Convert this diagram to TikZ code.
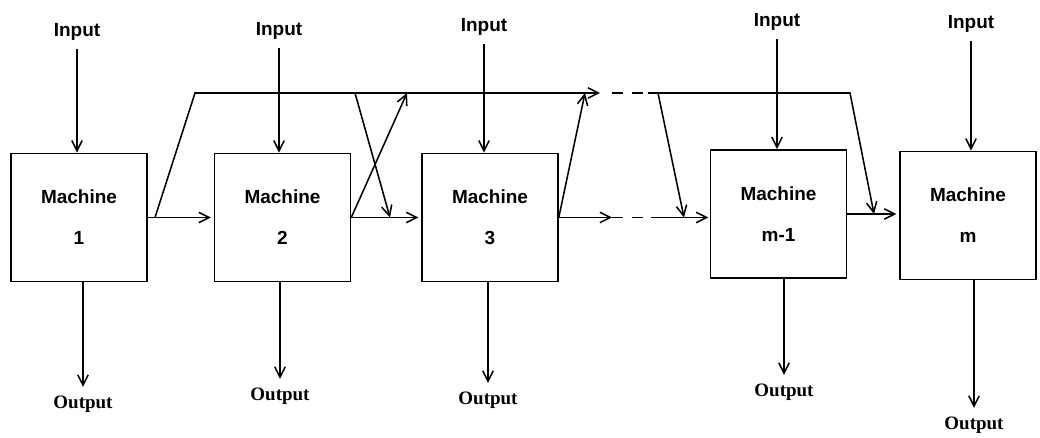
\documentclass[tikz,border=0pt]{standalone}
\usepackage{fontspec}
\setmainfont{Liberation Sans}
\newfontfamily\outfont{Liberation Serif}
\usetikzlibrary{arrows.meta}

\begin{document}
\begin{tikzpicture}[
  x=0.025cm, y=-0.025cm,
  font=\bfseries\fontsize{13.5}{16}\selectfont,
  every node/.style={align=center, inner sep=2pt},
  machine/.style={rectangle, draw=black, line width=1.1pt, minimum width=3.4cm, minimum height=3.2cm},
  io/.style     ={inner sep=6pt},
  arr/.style    ={-{Straight Barb[length=2.6mm, width=2.6mm]}, draw=black, line width=1.1pt},
  link/.style   ={draw=black, line width=1.1pt},
  gap/.style    ={draw=black, line width=1.1pt, dash pattern=on 8pt off 6pt}
]
\useasboundingbox (0,0) rectangle (1040,438);

% Machines (coordinates in pixels of the 1040x438 frame)
\node[machine] (m1)  at (79,217.5)  {Machine\\[13pt]1};
\node[machine] (m2)  at (282.5,217.5) {Machine\\[13pt]2};
\node[machine] (m3)  at (490,217.5) {Machine\\[13pt]3};
\node[machine] (mm1) at (778.5,214) {Machine\\[13pt]m-1};
\node[machine] (mm)  at (968,215.5) {Machine\\[13pt]m};

% Inputs above each machine
\node[io] (in1) at (77,32)  {Input};
\node[io] (in2) at (279,31) {Input};
\node[io] (in3) at (484,27) {Input};
\node[io] (in4) at (777,22) {Input};
\node[io] (in5) at (971,24) {Input};

% Outputs below each machine
\node[io] (out1) at (83,404)  {\outfont Output};
\node[io] (out2) at (280,396) {\outfont Output};
\node[io] (out3) at (488,400) {\outfont Output};
\node[io] (out4) at (784,392) {\outfont Output};
\node[io] (out5) at (974,425) {\outfont Output};

% Bends and joints of the bypass lines (top rail at y=93)
\coordinate (b1)  at (155,217.5);
\coordinate (t1)  at (195,93);
\coordinate (t2)  at (355,93);
\coordinate (j3)  at (390,217.5);
\coordinate (t3)  at (407,93);
\coordinate (t4)  at (585,93);
\coordinate (t5)  at (600,93);
\coordinate (t6)  at (612,93);
\coordinate (t7)  at (648,93);
\coordinate (t8)  at (658,93);
\coordinate (jm1) at (684,217.5);
\coordinate (t9)  at (850,93);
\coordinate (jm)  at (874,214);
\coordinate (d1)  at (612,217.5);
\coordinate (d2)  at (655,217.5);

% Input and output arrows
\foreach \i/\m in {1/m1, 2/m2, 3/m3, 4/mm1, 5/mm} {
  \draw[arr] (in\i) -- (in\i |- \m.north);
  \draw[arr] (\m.south -| out\i) -- (out\i);
}

% Main flow
\draw[arr, shorten >=2pt] (m1.east) -- (m1.east -| m2.west);
\draw[arr, shorten >=2pt] (m2.east) -- (m2.east -| m3.west);
\draw[arr] (m3.east) -- (d1);
\draw[gap] (d1) -- (d2);
\draw[arr, shorten >=1pt] (d2) -- (d2 -| mm1.west);
\draw[arr, shorten >=2pt] (mm1.east) -- (mm1.east -| mm.west);

% Bypass rail
\draw[arr] (b1) -- (t1) -- (t5);
\draw[arr] (t2) -- (j3);
\draw[arr] (m2.east) -- (t3);
\draw[arr] (m3.east) -- (t4);
\draw[gap] (t6) -- (t7);
\draw[arr] (t7) -- (t9) -- (jm);
\draw[arr] (t8) -- (jm1);
\end{tikzpicture}
\end{document}
